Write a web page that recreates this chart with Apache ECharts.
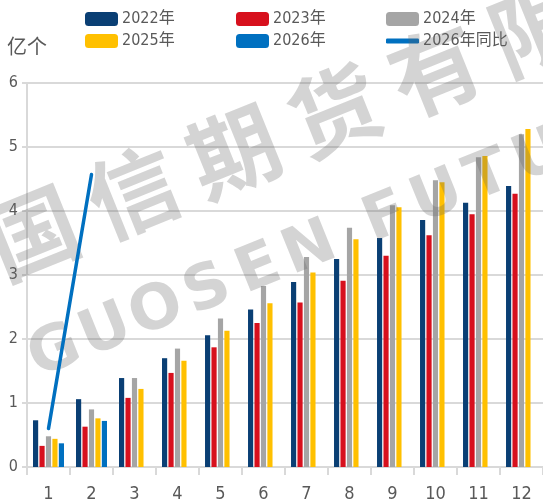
<!DOCTYPE html>
<html>
<head>
<meta charset="utf-8">
<script src="https://cdn.jsdelivr.net/npm/echarts@6/dist/echarts.min.js"></script>
<style>
  html, body { margin: 0; padding: 0; background: #ffffff; }
  #chart { width: 543px; height: 503px; }
</style>
</head>
<body>
<div id="chart"></div>
<script>
// Monthly volumes (亿个) by year, months 1–12
const months = ['1', '2', '3', '4', '5', '6', '7', '8', '9', '10', '11', '12'];
const y2022 = [0.73, 1.06, 1.39, 1.70, 2.06, 2.46, 2.89, 3.25, 3.58, 3.86, 4.13, 4.39];
const y2023 = [0.33, 0.63, 1.08, 1.47, 1.87, 2.25, 2.57, 2.91, 3.30, 3.62, 3.95, 4.27];
const y2024 = [0.48, 0.90, 1.39, 1.85, 2.32, 2.83, 3.28, 3.74, 4.09, 4.48, 4.84, 5.20];
const y2025 = [0.44, 0.76, 1.22, 1.66, 2.13, 2.56, 3.04, 3.56, 4.06, 4.45, 4.86, 5.28];
const y2026 = [0.37, 0.72, null, null, null, null, null, null, null, null, null, null];
const yoy2026 = [0.60, 4.57, null, null, null, null, null, null, null, null, null, null];
const yTicks = [0, 1, 2, 3, 4, 5, 6];

const seriesNames = ['2022年', '2023年', '2024年', '2025年', '2026年', '2026年同比'];
const colors = ['#0a3f74', '#d7101d', '#a5a5a5', '#ffc000', '#0070c0', '#0070c0'];

const FONT = '"DejaVu Sans Condensed", "Liberation Sans Narrow", "Noto Sans CJK SC", sans-serif';
const TEXT_COLOR = '#595959';
const GRID_COLOR = '#d9d9d9';

// Legend laid out as a 3 x 2 block
const legendSlots = [
  { left: 85, top: 11 }, { left: 236, top: 11 }, { left: 386, top: 11 },
  { left: 85, top: 33 }, { left: 236, top: 33 }, { left: 386, top: 33 }
];
const legends = seriesNames.map((name, i) => {
  const lg = {
    data: [name],
    left: legendSlots[i].left,
    top: legendSlots[i].top,
    padding: 0,
    itemWidth: 33,
    itemHeight: 14,
    selectedMode: false,
    textStyle: { fontFamily: FONT, fontSize: 16, color: TEXT_COLOR, padding: [0, 0, 0, -1] }
  };
  if (i === 5) {
    lg.data = [{ name: name, icon: 'roundRect' }];
    lg.itemHeight = 5;
  }
  return lg;
});

// Company watermark drawn across the plot
const wmFill = 'rgba(100,100,100,0.28)';
const wmAngle = 22 * Math.PI / 180;
const wmGraphics = [];
const cnChars = ['国', '信', '期', '货', '有', '限', '公', '司'];
cnChars.forEach((ch, i) => {
  const d = (i - 1) * 108.6;
  wmGraphics.push({
    type: 'text', z: 5, silent: true,
    x: 133 + d * Math.cos(wmAngle), y: 192 - d * Math.sin(wmAngle),
    rotation: wmAngle,
    style: { text: ch, fill: wmFill, font: 'bold 90px "Noto Sans CJK SC", sans-serif', align: 'center', verticalAlign: 'middle' }
  });
});
const enChars = ['G', 'U', 'O', 'S', 'E', 'N', '', 'F', 'U', 'T', 'U', 'R', 'E', 'S'];
let pos = 0;
enChars.forEach((ch) => {
  if (ch === '') { pos += 0.5; return; }
  const d = pos * 55;
  pos += 1;
  wmGraphics.push({
    type: 'text', z: 5, silent: true,
    x: 55 + d * Math.cos(wmAngle), y: 353 - d * Math.sin(wmAngle),
    rotation: wmAngle,
    style: { text: ch, fill: wmFill, font: 'bold 62px "DejaVu Sans", sans-serif', align: 'center', verticalAlign: 'middle' }
  });
});

const barData = [y2022, y2023, y2024, y2025, y2026];
const series = barData.map((d, i) => ({
  name: seriesNames[i],
  type: 'bar',
  data: d,
  barWidth: '12%',
  barGap: '25%',
  itemStyle: { color: colors[i] },
  z: 2
}));
series.push({
  name: seriesNames[5],
  type: 'line',
  data: yoy2026,
  symbol: 'none',
  lineStyle: { color: colors[5], width: 3.5, cap: 'round' },
  itemStyle: { color: colors[5] },
  z: 10
});

const chart = echarts.init(document.getElementById('chart'), null, { renderer: 'canvas' });
chart.setOption({
  animation: false,
  backgroundColor: '#ffffff',
  textStyle: { fontFamily: FONT },
  legend: legends,
  grid: { left: 27, right: -5, top: 83, bottom: 36, containLabel: false },
  xAxis: {
    type: 'category',
    data: months,
    axisLine: { show: true, lineStyle: { color: GRID_COLOR, width: 2 } },
    axisTick: { show: true, length: 8, lineStyle: { color: GRID_COLOR, width: 2 } },
    axisLabel: { color: TEXT_COLOR, fontFamily: FONT, fontSize: 18, margin: 18 }
  },
  yAxis: {
    type: 'value',
    min: yTicks[0],
    max: yTicks[yTicks.length - 1],
    interval: 1,
    name: '亿个',
    nameLocation: 'end',
    nameGap: 27,
    nameTextStyle: { color: TEXT_COLOR, fontFamily: '"Noto Sans CJK SC", sans-serif', fontSize: 20, fontWeight: 'normal' },
    axisLine: { show: true, lineStyle: { color: GRID_COLOR, width: 2 } },
    axisTick: { show: true, length: 5, lineStyle: { color: GRID_COLOR, width: 2 } },
    axisLabel: { color: TEXT_COLOR, fontFamily: FONT, fontSize: 16, margin: 9 },
    splitLine: { show: true, lineStyle: { color: GRID_COLOR, width: 2 } }
  },
  graphic: wmGraphics,
  series: series
});
</script>
</body>
</html>
